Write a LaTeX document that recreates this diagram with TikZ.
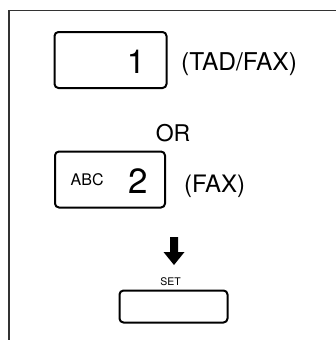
\documentclass[tikz,border=0pt]{standalone}
\usepackage{fontspec}
\setmainfont{TeX Gyre Heros}
\begin{document}
\begin{tikzpicture}[x=1pt,y=-1pt,
  key/.style={draw=black,line width=2pt,rounded corners=4pt,inner sep=0pt},
  lbl/.style={inner sep=0pt,text=black}]
\useasboundingbox (0,0) rectangle (336,340);
% frame
\coordinate (fl) at (9,340);
\coordinate (ftl) at (9,10.5);
\coordinate (ftr) at (336,10.5);
\draw[line width=1.4pt,black!80] (fl) -- (ftl) -- (ftr);
% key 1
\node[key,minimum width=112pt,minimum height=56pt] (k1) at (110.5,60) {};
\node[lbl,anchor=base,font=\fontsize{33}{33}\selectfont] (one) at (136,73) {1};
\node[lbl,anchor=base west,font=\fontsize{24.5}{25}\selectfont] (tad) at (181,70) {(TAD/FAX)};
% OR
\node[lbl,anchor=base,font=\fontsize{23}{23}\selectfont] (or) at (173,141) {OR};
% key 2
\node[key,minimum width=110pt,minimum height=56pt] (k2) at (110,179.5) {};
\node[lbl,anchor=base west,font=\fontsize{16}{16}\selectfont] (abc) at (70.5,185) {ABC};
\node[lbl,anchor=base,font=\fontsize{35}{35}\selectfont] (two) at (138,193) {2};
\node[lbl,anchor=base west,font=\fontsize{24}{24}\selectfont] (fax) at (184,192) {(FAX)};
% arrow
\coordinate (a1) at (170,237);
\coordinate (a2) at (178,237);
\coordinate (a3) at (178,252);
\coordinate (a4) at (184.5,252);
\coordinate (a5) at (174,265);
\coordinate (a6) at (163.5,252);
\coordinate (a7) at (170,252);
\fill[black] (a1) -- (a2) -- (a3) -- (a4) -- (a5) -- (a6) -- (a7) -- cycle;
% SET
\node[lbl,anchor=base,font=\fontsize{10.5}{11}\selectfont] (set) at (170.5,285) {SET};
\node[key,minimum width=108pt,minimum height=32pt] (ks) at (173.5,306.5) {};
\end{tikzpicture}
\end{document}
